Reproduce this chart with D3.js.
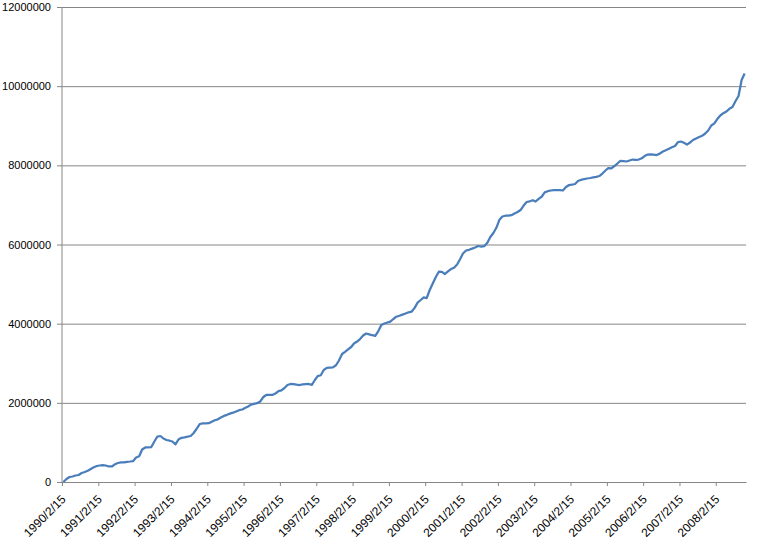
<!DOCTYPE html>
<html>
<head>
<meta charset="utf-8">
<script src="https://cdn.jsdelivr.net/npm/d3@7"></script>
<style>
  body { margin: 0; background: #fff; }
  .plot-wrap { width: 759px; height: 546px; }
  text { font-family: "Liberation Sans", Arial, sans-serif; font-size: 11px; fill: #000; }
</style>
</head>
<body>
<div class="plot-wrap"></div>
<script>
// first month of the series, one value per month after it (millions)
var startMonth = '1990-02-15';
var endMonth = '2008-12-15';
var values = [
  0.000, 0.076, 0.126, 0.139, 0.164, 0.177, 0.227, 0.253, 0.285, 0.328, 0.371, 0.404,
  0.417, 0.429, 0.417, 0.392, 0.392, 0.447, 0.480, 0.498, 0.498, 0.510, 0.518, 0.530,
  0.619, 0.649, 0.821, 0.872, 0.877, 0.884, 1.023, 1.149, 1.162, 1.099, 1.061, 1.043,
  1.023, 0.952, 1.074, 1.117, 1.129, 1.144, 1.162, 1.238, 1.351, 1.465, 1.483, 1.483,
  1.485, 1.523, 1.561, 1.584, 1.629, 1.670, 1.697, 1.728, 1.751, 1.781, 1.814, 1.831,
  1.869, 1.907, 1.955, 1.975, 1.991, 2.034, 2.147, 2.198, 2.198, 2.198, 2.236, 2.294,
  2.316, 2.375, 2.450, 2.476, 2.471, 2.458, 2.450, 2.466, 2.471, 2.476, 2.455, 2.577,
  2.673, 2.698, 2.829, 2.882, 2.892, 2.897, 2.950, 3.069, 3.233, 3.289, 3.352, 3.410,
  3.499, 3.549, 3.612, 3.701, 3.751, 3.731, 3.708, 3.693, 3.814, 3.966, 4.004, 4.029,
  4.052, 4.118, 4.176, 4.201, 4.229, 4.257, 4.287, 4.302, 4.400, 4.534, 4.598, 4.666,
  4.643, 4.850, 5.014, 5.179, 5.313, 5.310, 5.254, 5.322, 5.380, 5.413, 5.494, 5.633,
  5.772, 5.848, 5.866, 5.896, 5.924, 5.962, 5.949, 5.957, 6.043, 6.189, 6.290, 6.429,
  6.618, 6.707, 6.727, 6.730, 6.740, 6.783, 6.821, 6.871, 6.985, 7.073, 7.091, 7.119,
  7.086, 7.154, 7.207, 7.316, 7.346, 7.364, 7.374, 7.376, 7.376, 7.364, 7.452, 7.503,
  7.510, 7.528, 7.604, 7.634, 7.654, 7.667, 7.680, 7.695, 7.710, 7.730, 7.793, 7.869,
  7.932, 7.925, 7.983, 8.046, 8.115, 8.109, 8.097, 8.122, 8.147, 8.140, 8.147, 8.178,
  8.235, 8.273, 8.278, 8.270, 8.260, 8.296, 8.349, 8.382, 8.417, 8.455, 8.488, 8.589,
  8.602, 8.569, 8.523, 8.576, 8.640, 8.680, 8.716, 8.746, 8.804, 8.880, 9.006, 9.059,
  9.170, 9.259, 9.317, 9.360, 9.428, 9.473, 9.625, 9.751, 10.156, 10.320, 10.307
];
var tickLabels = ['1990/2/15','1991/2/15','1992/2/15','1993/2/15','1994/2/15','1995/2/15',
  '1996/2/15','1997/2/15','1998/2/15','1999/2/15','2000/2/15','2001/2/15','2002/2/15',
  '2003/2/15','2004/2/15','2005/2/15','2006/2/15','2007/2/15','2008/2/15'];
var yTicks = [0, 2000000, 4000000, 6000000, 8000000, 10000000, 12000000];

var parseDate = d3.timeParse('%Y-%m-%d');
var parseLabel = d3.timeParse('%Y/%m/%d');

var months = d3.timeMonth.range(parseDate(startMonth), d3.timeDay.offset(parseDate(endMonth), 1));
var data = values.map(function(v, i){ return { date: months[i], value: v * 1e6 }; });

var margin = { top: 7, left: 62, right: 13, bottom: 64 };
var element = document.querySelector('.plot-wrap');
var width = 759 - margin.left - margin.right;
var height = 546 - margin.top - margin.bottom;

var svg = d3.select(element).append('svg')
  .attr('width', 759)
  .attr('height', 546);

var plot = svg.append('g')
  .attr('transform', 'translate(' + margin.left + ',' + margin.top + ')');

var xScale = d3.scaleTime()
  .domain([parseDate(startMonth), parseDate(endMonth)])
  .range([0, width]);
var yScale = d3.scaleLinear()
  .domain([0, 12000000])
  .range([height, 0]);

// gridlines + y axis
var yAxis = d3.axisLeft(yScale)
  .tickValues(yTicks)
  .tickFormat(d3.format('d'))
  .tickSizeInner(-width)
  .tickSizeOuter(0)
  .tickPadding(11);
var gy = plot.append('g').attr('class', 'y-axis').call(yAxis);
gy.select('.domain').remove();
gy.selectAll('.tick line').attr('stroke', '#868686').attr('x1', -5);

plot.append('line')
  .attr('x1', 0).attr('x2', 0)
  .attr('y1', 0).attr('y2', height)
  .attr('stroke', '#868686');

// x axis
var xAxis = d3.axisBottom(xScale)
  .tickValues(tickLabels.map(function(t){ return parseLabel(t); }))
  .tickFormat(function(d, i){ return tickLabels[i]; })
  .tickSizeInner(4)
  .tickSizeOuter(0);
var gx = plot.append('g')
  .attr('class', 'x-axis')
  .attr('transform', 'translate(0,' + height + ')')
  .call(xAxis);
gx.select('.domain').attr('stroke', '#868686');
gx.selectAll('.tick line').attr('stroke', '#868686');
gx.selectAll('.tick text')
  .style('font-size', '12px')
  .attr('text-anchor', 'end')
  .attr('y', 0).attr('dy', 0)
  .attr('transform', 'translate(4,18) rotate(-45)');

var lineGen = d3.line()
  .x(function(d){ return xScale(d.date); })
  .y(function(d){ return yScale(d.value); })
  .curve(d3.curveLinear);

plot.append('path')
  .attr('d', lineGen(data))
  .attr('fill', 'none')
  .attr('stroke', '#4a7ebb')
  .attr('stroke-width', 2.25)
  .attr('stroke-linejoin', 'round');
</script>
</body>
</html>
